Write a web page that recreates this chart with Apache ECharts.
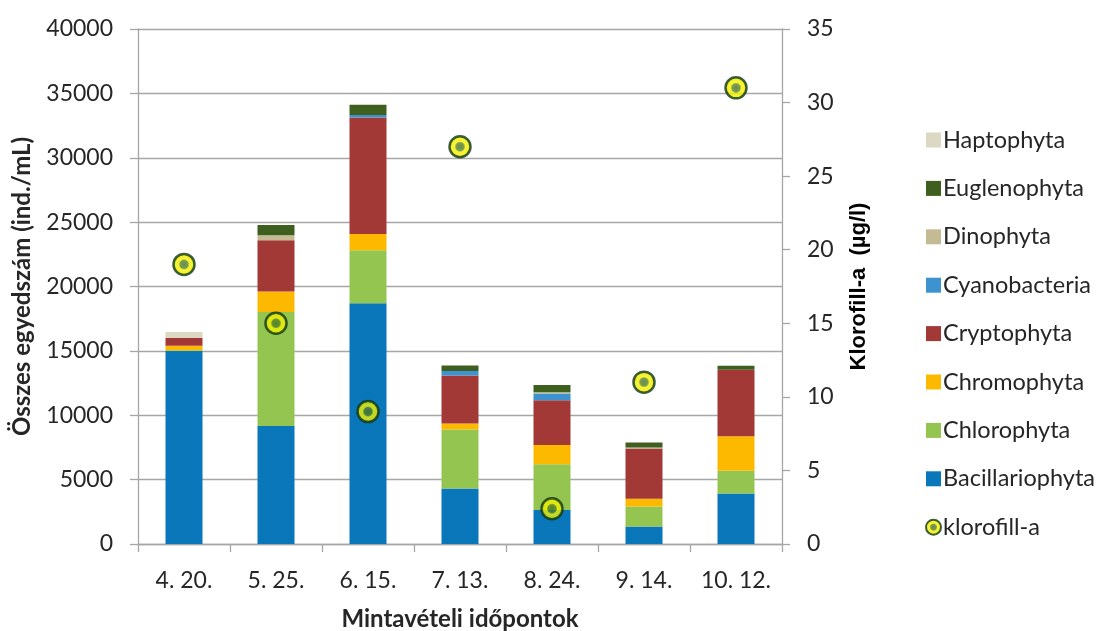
<!DOCTYPE html>
<html>
<head>
<meta charset="utf-8">
<script src="https://cdn.jsdelivr.net/npm/echarts@6/dist/echarts.min.js"></script>
<style>
html,body{margin:0;padding:0;background:#fff;}
#chart{width:1104px;height:631px;}
</style>
</head>
<body>
<div id="chart"></div>
<script>
const categories = ['4. 20.', '5. 25.', '6. 15.', '7. 13.', '8. 24.', '9. 14.', '10. 12.'];
const bacillariophyta = [15000, 9170, 18700, 4320, 2640, 1350, 3930];
const chlorophyta = [40, 8840, 4110, 4570, 3560, 1570, 1750];
const chromophyta = [360, 1600, 1270, 470, 1480, 600, 2690];
const cryptophyta = [600, 3980, 9040, 3720, 3480, 3900, 5170];
const cyanobacteria = [0, 0, 210, 360, 520, 0, 0];
const dinophyta = [0, 390, 0, 0, 100, 80, 0];
const euglenophyta = [0, 800, 780, 420, 570, 380, 310];
const haptophyta = [470, 0, 0, 0, 0, 0, 0];
const klorofill = [19, 15, 9, 27, 2.4, 11, 31];
const leftTicks = {min: 0, max: 40000, interval: 5000};
const rightTicks = {min: 0, max: 35, interval: 5};

const FONT = 'Lato';
const TXT = '#262626';
const GRIDC = '#a6a6a6';

function bar(name, data, color) {
  return {
    name: name, type: 'bar', stack: 'total', data: data, barWidth: 37,
    itemStyle: {color: color}, emphasis: {disabled: true}
  };
}

const series = [
  bar('Bacillariophyta', bacillariophyta, '#0a77bb'),
  bar('Chlorophyta', chlorophyta, '#94c551'),
  bar('Chromophyta', chromophyta, '#fdb800'),
  bar('Cryptophyta', cryptophyta, '#a33936'),
  bar('Cyanobacteria', cyanobacteria, '#3c93cf'),
  bar('Dinophyta', dinophyta, '#c4bb95'),
  bar('Euglenophyta', euglenophyta, '#3f5f1e'),
  bar('Haptophyta', haptophyta, '#ddd8c3'),
  {
    name: 'klorofill-a', type: 'scatter', yAxisIndex: 1, data: klorofill,
    symbol: 'circle', symbolSize: 21, z: 10,
    itemStyle: {
      color: new echarts.graphic.RadialGradient(0.5, 0.5, 0.5, [
        {offset: 0, color: '#45701f'},
        {offset: 0.34, color: '#5a8424'},
        {offset: 0.46, color: '#f5f200'},
        {offset: 1, color: '#eaea00'}
      ]),
      borderColor: '#0c3510', borderWidth: 2.5
    },
    emphasis: {disabled: true}
  }
];

const chart = echarts.init(document.getElementById('chart'), null, {renderer: 'canvas'});
chart.setOption({
  animation: false,
  backgroundColor: '#ffffff',
  grid: {left: 138, right: 322, top: 29, bottom: 87, containLabel: false, outerBoundsMode: 'none'},
  legend: {
    orient: 'vertical', left: 920, top: 123,
    itemWidth: 15, itemHeight: 15, itemGap: 24.4,
    data: [
      {name: 'Haptophyta', icon: 'rect'},
      {name: 'Euglenophyta', icon: 'rect'},
      {name: 'Dinophyta', icon: 'rect'},
      {name: 'Cyanobacteria', icon: 'rect'},
      {name: 'Cryptophyta', icon: 'rect'},
      {name: 'Chromophyta', icon: 'rect'},
      {name: 'Chlorophyta', icon: 'rect'},
      {name: 'Bacillariophyta', icon: 'rect'},
      {name: 'klorofill-a', icon: 'circle'}
    ],
    textStyle: {fontFamily: FONT, fontSize: 23.5, color: TXT, lineHeight: 24, padding: [0,0,0,-3]},
    selectedMode: false
  },
  xAxis: {
    type: 'category', data: categories, boundaryGap: true,
    axisLine: {lineStyle: {color: GRIDC, width: 1.3}},
    axisTick: {show: true, length: 8, lineStyle: {color: GRIDC, width: 1.3}},
    axisLabel: {fontFamily: FONT, fontSize: 23, color: TXT, margin: 25},
    name: 'Mintavételi időpontok', nameLocation: 'middle', nameGap: 63,
    nameTextStyle: {fontFamily: FONT, fontSize: 24, fontWeight: 'bold', color: TXT}
  },
  yAxis: [
    {
      type: 'value', min: leftTicks.min, max: leftTicks.max, interval: leftTicks.interval,
      axisLine: {show: true, lineStyle: {color: GRIDC, width: 1.3}},
      axisTick: {show: true, length: 8, lineStyle: {color: GRIDC, width: 1.3}},
      splitLine: {show: true, lineStyle: {color: GRIDC, width: 1.3}},
      axisLabel: {fontFamily: FONT, fontSize: 23, color: TXT, margin: 25,
        formatter: function (v) { return String(v); }},
      name: 'Összes egyedszám (ind./mL)', nameLocation: 'middle', nameGap: 104,
      nameRotate: 90,
      nameTextStyle: {fontFamily: FONT, fontSize: 24, fontWeight: 'bold', color: TXT}
    },
    {
      type: 'value', position: 'right', min: rightTicks.min, max: rightTicks.max, interval: rightTicks.interval,
      axisLine: {show: true, lineStyle: {color: GRIDC, width: 1.3}},
      axisTick: {show: true, length: 8, lineStyle: {color: GRIDC, width: 1.3}},
      splitLine: {show: false},
      axisLabel: {fontFamily: FONT, fontSize: 23, color: TXT, margin: 25},
      name: 'Klorofill-a  (µg/l)', nameLocation: 'middle', nameGap: 66,
      nameRotate: 90,
      nameTextStyle: {fontFamily: '"Liberation Sans", Arial, sans-serif', fontSize: 22, fontWeight: 'bold', color: '#000'}
    }
  ],
  series: series
});
</script>
</body>
</html>
